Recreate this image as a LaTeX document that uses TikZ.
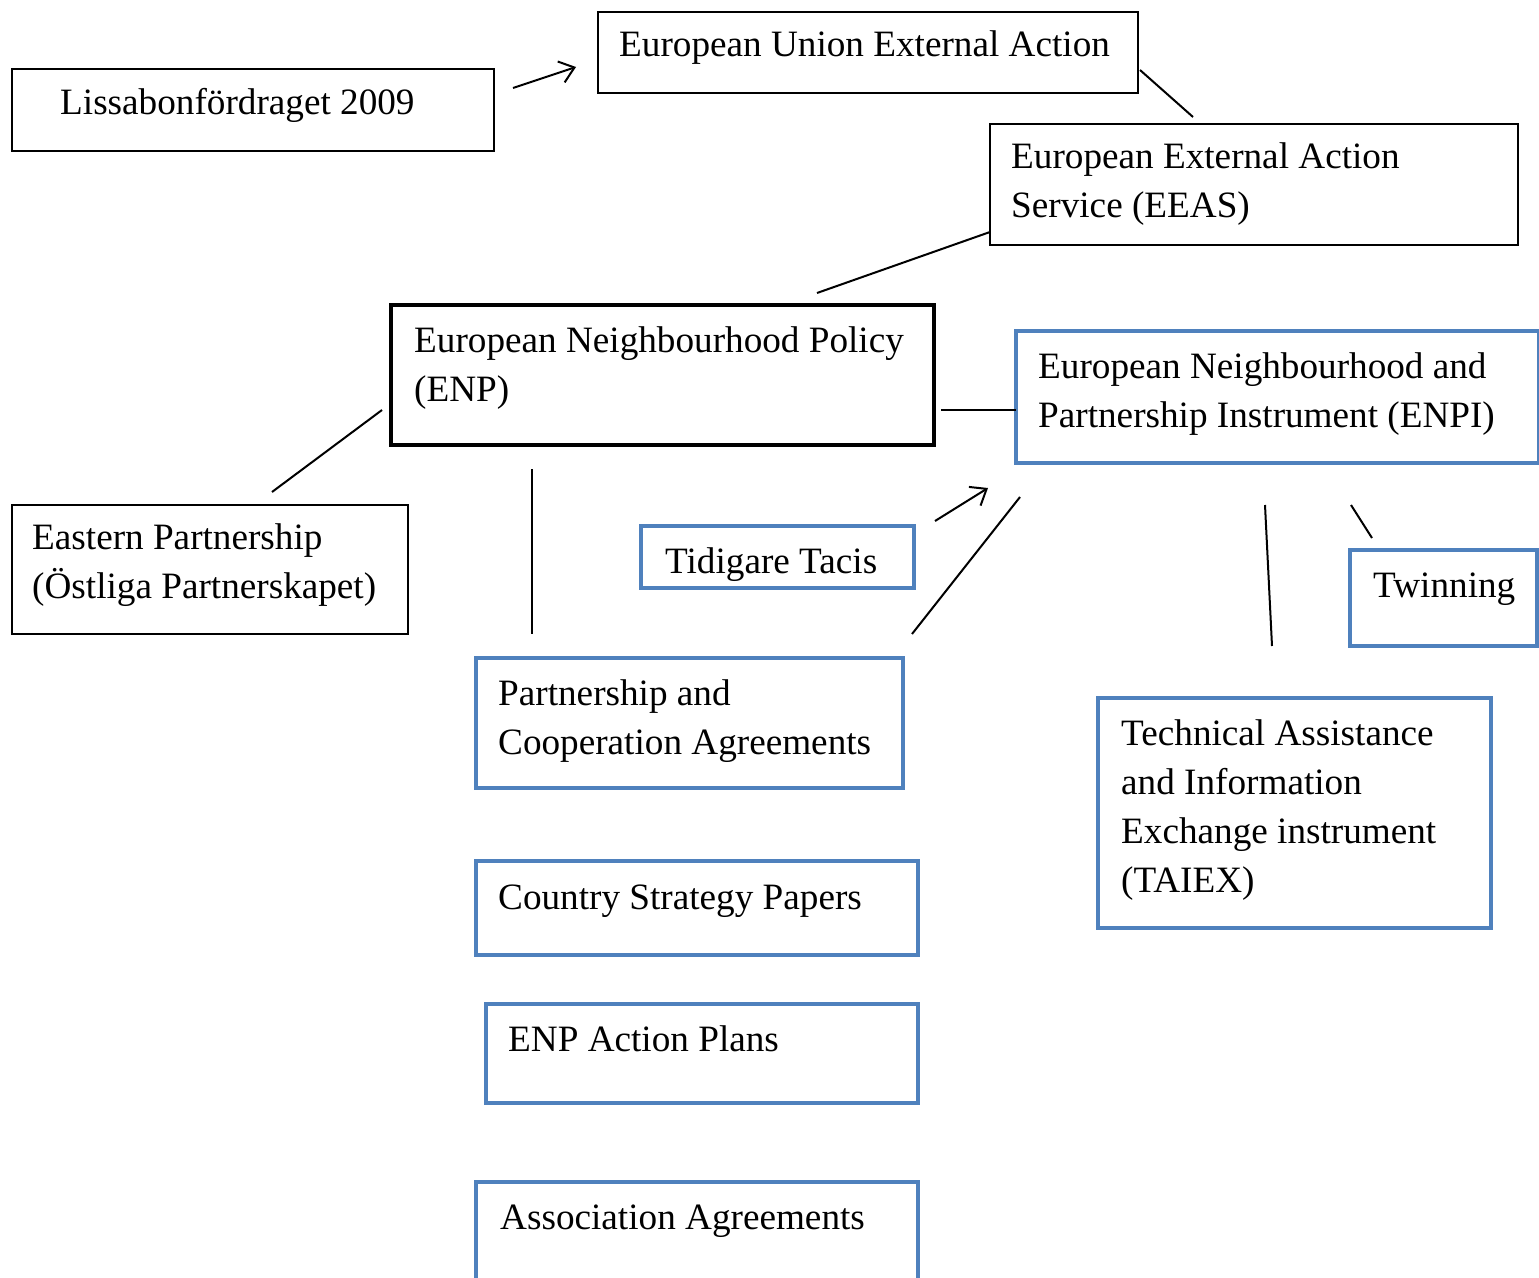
\documentclass[tikz,border=0pt]{standalone}
\usepackage{fontspec}
\setmainfont{Liberation Serif}
\usetikzlibrary{arrows.meta}
\definecolor{boxblue}{RGB}{79,129,189}
\begin{document}
\begin{tikzpicture}[x=1pt,y=-1pt,
  thinbox/.style={draw=black,line width=2pt,anchor=north west,inner sep=0pt,outer sep=0pt},
  thickbox/.style={draw=black,line width=4.5pt,anchor=north west,inner sep=0pt,outer sep=0pt},
  bluebox/.style={draw=boxblue,line width=4.5pt,anchor=north west,inner sep=0pt,outer sep=0pt},
  txt/.style={anchor=base west,inner sep=0pt,align=left,font=\fontsize{37.2}{49.3}\selectfont},
  conn/.style={line width=2pt},
  arr/.style={line width=2pt,-{Straight Barb[length=14pt,width=22pt,line width=2pt]}}]
\useasboundingbox (0,0) rectangle (1539,1277);
% boxes
\node[thinbox,minimum width=482pt,minimum height=82pt] (lis) at (12,69) {};
\node[thinbox,minimum width=540pt,minimum height=81pt] (euea) at (598,12) {};
\node[thinbox,minimum width=528pt,minimum height=121pt] (eeas) at (990,124) {};
\node[thickbox,minimum width=543pt,minimum height=140pt] (enp) at (391,305) {};
\node[bluebox,minimum width=523pt,minimum height=132pt] (enpi) at (1016,331) {};
\node[thinbox,minimum width=396pt,minimum height=129pt] (east) at (12,505) {};
\node[bluebox,minimum width=273pt,minimum height=62pt] (tacis) at (641,526) {};
\node[bluebox,minimum width=187pt,minimum height=96pt] (twin) at (1350,550) {};
\node[bluebox,minimum width=427pt,minimum height=130pt] (pca) at (476,658) {};
\node[bluebox,minimum width=393pt,minimum height=230pt] (taiex) at (1098,698) {};
\node[bluebox,minimum width=442pt,minimum height=94pt] (csp) at (476,861) {};
\node[bluebox,minimum width=432pt,minimum height=99pt] (eap) at (486,1004) {};
\node[bluebox,minimum width=442pt,minimum height=130pt] (aa) at (476,1182) {};
% texts (anchor = baseline of the last line)
\node[txt] (lis-t) at (60,114) {Lissabonfördraget 2009};
\node[txt] (euea-t) at (619,56) {European Union External Action};
\node[txt] (eeas-t) at (1011,217.3) {European External Action\\Service (EEAS)};
\node[txt] (enp-t) at (414,401.3) {European Neighbourhood Policy\\(ENP)};
\node[txt] (enpi-t) at (1038,427.3) {European Neighbourhood and\\Partnership Instrument (ENPI)};
\node[txt] (east-t) at (32,598.3) {Eastern Partnership\\(Östliga Partnerskapet)};
\node[txt] (tacis-t) at (665,573) {Tidigare Tacis};
\node[txt] (twin-t) at (1373,597) {Twinning};
\node[txt] (pca-t) at (498,754.3) {Partnership and\\Cooperation Agreements};
\node[txt] (taiex-t) at (1121,892.9) {Technical Assistance\\and Information\\Exchange instrument\\(TAIEX)};
\node[txt] (csp-t) at (498,909) {Country Strategy Papers};
\node[txt] (eap-t) at (508,1051) {ENP Action Plans};
\node[txt] (aa-t) at (500,1229) {Association Agreements};
% connector end points
\coordinate (c1a) at (513,88);   \coordinate (c1b) at (576,67);
\coordinate (c2a) at (1140,70);  \coordinate (c2b) at (1193,117);
\coordinate (c3a) at (990,232);  \coordinate (c3b) at (817,293);
\coordinate (c4a) at (382,410);  \coordinate (c4b) at (272,492);
\coordinate (c5a) at (532,469);  \coordinate (c5b) at (532,634);
\coordinate (c6a) at (941,410);  \coordinate (c6b) at (1016,410);
\coordinate (c7a) at (935,521);  \coordinate (c7b) at (988,488);
\coordinate (c8a) at (912,634);  \coordinate (c8b) at (1020,497);
\coordinate (c9a) at (1265,505); \coordinate (c9b) at (1272,646);
\coordinate (c10a) at (1351,505); \coordinate (c10b) at (1372,538);
% connectors
\draw[arr] (c1a) -- (c1b);
\draw[conn] (c2a) -- (c2b);
\draw[conn] (c3a) -- (c3b);
\draw[conn] (c4a) -- (c4b);
\draw[conn] (c5a) -- (c5b);
\draw[conn] (c6a) -- (c6b);
\draw[arr] (c7a) -- (c7b);
\draw[conn] (c8a) -- (c8b);
\draw[conn] (c9a) -- (c9b);
\draw[conn] (c10a) -- (c10b);
\end{tikzpicture}
\end{document}
